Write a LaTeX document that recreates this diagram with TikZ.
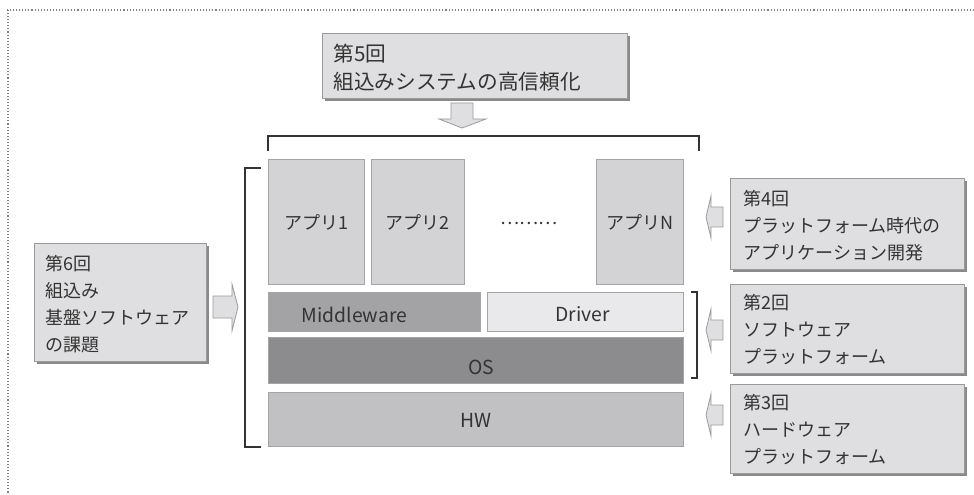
\documentclass[tikz,border=0pt]{standalone}
\usepackage{fontspec}
\setmainfont{Noto Sans CJK JP}
\usetikzlibrary{shadows}
\definecolor{txt}{HTML}{333333}
\definecolor{infofill}{HTML}{DFDFE1}
\definecolor{infoline}{HTML}{9A9A9A}
\definecolor{shadowc}{HTML}{8A8A8A}
\definecolor{appfill}{HTML}{D3D3D5}
\definecolor{mwfill}{HTML}{A3A3A5}
\definecolor{drvfill}{HTML}{E9E9EB}
\definecolor{osfill}{HTML}{8C8C8E}
\definecolor{hwfill}{HTML}{C1C1C3}
\definecolor{boxline}{HTML}{A5A5A7}
\definecolor{brk}{HTML}{333333}
\tikzset{
  px/.style 2 args={minimum width=#1*0.75pt, minimum height=#2*0.75pt},
  infobox/.style={draw=infoline, fill=infofill, line width=0.6pt, anchor=north west,
    inner sep=0pt, align=left, text=txt, font=\fontsize{13.5}{20.25}\selectfont,
    drop shadow={shadow xshift=2.2pt, shadow yshift=-2.2pt, opacity=1, fill=shadowc, draw=none}},
  layer/.style={draw=boxline, line width=0.6pt, anchor=north west, inner sep=0pt, text=txt},
  lbl/.style={text=txt, inner sep=0pt, font=\fontsize{14.5}{17}\selectfont},
  applbl/.style={text=txt, font=\fontsize{13.5}{16}\selectfont},
  bracketline/.style={draw=brk, line width=1.5pt},
  blockarrow/.style={draw=infoline, fill=infofill, line width=0.6pt, line join=miter},
}
\begin{document}
\begin{tikzpicture}[x=0.75pt,y=-0.75pt]
\useasboundingbox (0,0) rectangle (974,495);
% dotted frame
\draw[gray, line width=0.8pt, dash pattern=on 0.8pt off 1.5pt] (974,10) -- (8,10) -- (8,495);

% info boxes
\node[infobox, px={305}{65}, font=\fontsize{15.5}{21}\selectfont] (t5) at (322,33)
  {\hspace*{3pt}\parbox{215pt}{\vspace*{3pt}第5回\\組込みシステムの高信頼化}};
\node[infobox, px={172}{118}] (t6) at (34,243)
  {\hspace*{6pt}\parbox{118pt}{\vspace*{2pt}第6回\\組込み\\基盤ソフトウェア\\の課題}};
\node[infobox, px={234}{91}] (t4) at (730,178)
  {\hspace*{6pt}\parbox{162pt}{\vspace*{3pt}第4回\\プラットフォーム時代の\\アプリケーション開発}};
\node[infobox, px={234}{89}] (t2) at (730,284)
  {\hspace*{6pt}\parbox{162pt}{\vspace*{1pt}第2回\\ソフトウェア\\プラットフォーム}};
\node[infobox, px={234}{89}] (t3) at (730,384)
  {\hspace*{6pt}\parbox{162pt}{\vspace*{1pt}第3回\\ハードウェア\\プラットフォーム}};

% application layer
\node[layer, fill=appfill, px={96}{125}, applbl] (app1) at (268,159) {アプリ1};
\node[layer, fill=appfill, px={93}{125}, applbl] (app2) at (371,159) {アプリ2};
\node[layer, fill=appfill, px={87}{125}, applbl] (appN) at (596,159) {アプリN};
\node[text=txt, font=\fontsize{13.5}{16}\selectfont] (dots) at (529,223) {………};

% middleware / driver / os / hw
\node[layer, fill=mwfill, px={212}{39}] (mw) at (268,292) {};
\node[lbl] (mwt) at ([xshift=-15pt, yshift=-2pt]mw.center) {Middleware};
\node[layer, fill=drvfill, px={196}{39}] (drv) at (487,292) {};
\node[lbl] (drvt) at ([xshift=-2pt, yshift=-2pt]drv.center) {Driver};
\node[layer, fill=osfill, px={415}{46}] (os) at (268,337) {};
\node[lbl] (ost) at ([xshift=4pt, yshift=-5pt]os.center) {OS};
\node[layer, fill=hwfill, px={415}{54}] (hw) at (268,392) {};
\node[lbl] (hwt) at ([xshift=0pt, yshift=-1pt]hw.center) {HW};

% brackets
\draw[bracketline] (268,151) -- (268,136) -- (699,136) -- (699,151);
\draw[bracketline] (261,168) -- (245,168) -- (245,447) -- (261,447);
\draw[bracketline] (691,292) -- (697,292) -- (697,378) -- (691,378);

% block arrows
\draw[blockarrow] (451,103) -- (473,103) -- (473,119) -- (486,119) -- (462,128) -- (439,119) -- (451,119) -- cycle;
\draw[blockarrow] (213,296) -- (232,296) -- (232,284) -- (238,307) -- (232,331) -- (232,318) -- (213,318) -- cycle;
\foreach \cy in {217,330,415}{
  \draw[blockarrow] (723,\cy-10) -- (711,\cy-10) -- (711,\cy-21) -- (706,\cy) -- (711,\cy+21) -- (711,\cy+10) -- (723,\cy+10) -- cycle;
}
\end{tikzpicture}
\end{document}
